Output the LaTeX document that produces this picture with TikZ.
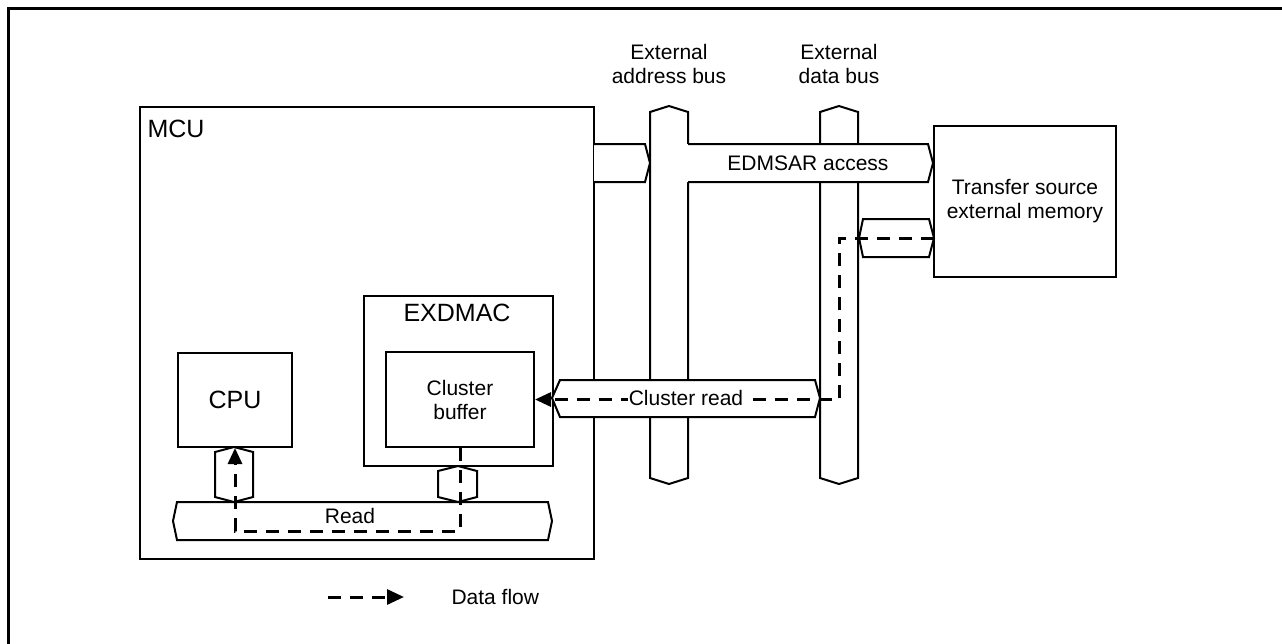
\documentclass[tikz,border=0pt]{standalone}
\usepackage{fontspec}
\setmainfont{Liberation Sans}
\usetikzlibrary{arrows.meta}
\begin{document}
\begin{tikzpicture}[x=1pt,y=-1pt,
  ln/.style={line width=2pt, line join=miter},
  box/.style={ln, draw, fill=white, anchor=north west, inner sep=0pt},
  bus/.style={ln, draw, fill=white},
  flow/.style={line width=3pt, dash pattern=on 13pt off 9pt, -{Triangle[length=16pt,width=14pt]}},
  big/.style={font=\fontsize{25}{29}\selectfont},
  txt/.style={font=\fontsize{21}{24}\selectfont, align=center}
]
\useasboundingbox (0,0) rectangle (1282,643);
% outer frame (only top and left visible)
\draw[line width=3pt] (8,645) -- (8,8) -- (1284,8);

% MCU
\node[box, minimum width=454pt, minimum height=452pt] (mcu) at (139,106) {};
\node[big, anchor=base west] (mcut) at (144,137) {MCU};

% EXDMAC and cluster buffer
\node[box, minimum width=189pt, minimum height=170pt] (exd) at (363,295) {};
\node[big] (exdt) at (457,313) {EXDMAC};
\node[box, minimum width=148pt, minimum height=95pt] (cbuf) at (385,351) {};
\node[txt] (cbuft) at (cbuf.center) {Cluster\\buffer};

% CPU
\node[box, minimum width=114pt, minimum height=94pt] (cpu) at (177,352) {};
\node[big] (cput) at (cpu.center) {CPU};

% external memory
\node[box, minimum width=182pt, minimum height=151pt] (mem) at (933,125) {};
\node[txt] (memt) at (mem.center) {Transfer source\\external memory};

% bus labels
\node[txt] (extA) at (669,64) {External\\address bus};
\node[txt] (extD) at (839,64) {External\\data bus};

% vertical buses
\draw[bus] (650,112) -- (669,106) -- (688,112) -- (688,478) -- (669,484) -- (650,478) -- cycle;
\draw[bus] (820,112) -- (839,106) -- (858,112) -- (858,478) -- (839,484) -- (820,478) -- cycle;

% MCU -> address bus stub
\fill[white] (594,144) -- (645,144) -- (650,163) -- (645,182) -- (594,182) -- cycle;
\draw[ln] (593,144) -- (645,144) -- (650,163) -- (645,182) -- (593,182);

% EDMSAR access band
\fill[white] (687,144) -- (928,144) -- (933,163) -- (928,182) -- (687,182) -- cycle;
\draw[ln] (688,144) -- (928,144) -- (933,163) -- (928,182) -- (688,182);
\node[txt] (edm) at (808,163) {EDMSAR access};

% data bus <-> memory chevron
\draw[bus] (859,238) -- (863,219) -- (929,219) -- (934,238) -- (929,257) -- (863,257) -- cycle;
\coordinate (dchev) at (934,238);

% Cluster read band
\draw[bus] (552,398) -- (560,380) -- (815,380) -- (820,398) -- (815,417) -- (560,417) -- cycle;

% internal Read bus
\draw[bus] (173,521) -- (177,502) -- (548,502) -- (552,521) -- (548,540) -- (177,540) -- cycle;
\node[txt] (readt) at (350,516) {Read};

% connectors to Read bus
\draw[bus] (215,452) -- (234,447) -- (253,452) -- (253,497) -- (234,502) -- (215,497) -- cycle;
\draw[bus] (438,471) -- (458,466) -- (477,471) -- (477,497) -- (458,502) -- (438,497) -- cycle;

% data flows
\draw[flow] (dchev) -- ++(-95,0) |- (cbuf.east);
\node[txt, fill=white, inner sep=1pt] (crt) at (686,398) {Cluster read};
\draw[flow] (cbuf.south) -- ++(0,83) -| (cpu.south);

% legend
\coordinate (lg) at (328,597);
\draw[flow, -{Triangle[length=17pt,width=15pt]}] (lg) -- ++(76,0);
\node[txt, anchor=west] (lgt) at (448,597) {Data flow};
\end{tikzpicture}
\end{document}
